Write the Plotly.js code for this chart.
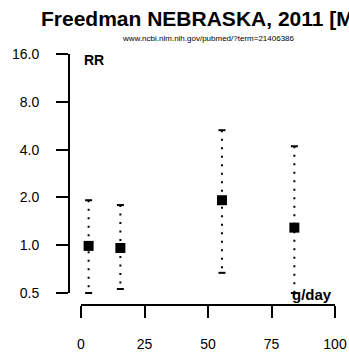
<!DOCTYPE html>
<html>
<head>
<meta charset="utf-8">
<script src="https://cdn.plot.ly/plotly-3.0.1.min.js"></script>
<style>html,body{margin:0;padding:0;background:#fff;}#chart{width:349px;height:361px;}</style>
</head>
<body>
<div id="chart"></div>
<script>
// Data
const dose = [3, 15.5, 55.5, 84];          // g/day
const rr = [0.99, 0.96, 1.92, 1.29];       // relative risk
const rrLow = [0.50, 0.53, 0.67, 0.50];
const rrHigh = [1.92, 1.79, 5.3, 4.2];
const yTickVals = [0.5, 1, 2, 4, 8, 16];
const yTickText = ["0.5", "1.0", "2.0", "4.0", "8.0", "16.0"];
const xTickVals = [0, 25, 50, 75, 100];

// layout geometry (pixels)
const W = 349, Hh = 361;
const ml = 69, mr = 14, mt = 54, mb = 56;
const pw = W - ml - mr, ph = Hh - mt - mb;
const px = v => (v - ml) / pw;
const py = v => (Hh - mb - v) / ph;

// dotted CI lines
const lx = [], ly = [];
for (let i = 0; i < dose.length; i++) {
  lx.push(dose[i], dose[i], null);
  ly.push(rrHigh[i], rrLow[i], null);
}
const capX = dose.concat(dose);
const capY = rrHigh.concat(rrLow);

const traces = [
  {x: lx, y: ly, mode: 'lines', type: 'scatter', cliponaxis: false,
   line: {color: '#000', width: 2, dash: '2px,6.5px'}, hoverinfo: 'skip'},
  {x: capX, y: capY, mode: 'markers', type: 'scatter', cliponaxis: false,
   marker: {symbol: 'line-ew', size: 5, line: {color: '#000', width: 2}}},
  {x: dose, y: rr, mode: 'markers', type: 'scatter', cliponaxis: false,
   marker: {symbol: 'square', size: 10, color: '#000'}}
];

const font = 'Liberation Sans, Arial, Helvetica, sans-serif';
const layout = {
  width: W, height: Hh,
  margin: {l: ml, r: mr, t: mt, b: mb, pad: 0},
  paper_bgcolor: '#fff', plot_bgcolor: '#fff',
  showlegend: false,
  font: {family: font, color: '#000', size: 14},
  xaxis: {
    range: [0, 100], domain: [px(81), 1],
    anchor: 'free', position: 0,
    tickvals: xTickVals, ticktext: xTickVals.map(String),
    ticks: 'outside', ticklen: 12, tickwidth: 2, tickcolor: '#000',
    showline: true, linewidth: 2, linecolor: '#000',
    showgrid: false, zeroline: false, ticklabelstandoff: 14,
    tickfont: {size: 14, family: font}
  },
  yaxis: {
    type: 'log', range: [Math.log10(0.5), Math.log10(16)],
    domain: [py(293), 1],
    anchor: 'free', position: 0,
    tickvals: yTickVals, ticktext: yTickText,
    ticks: 'outside', ticklen: 12, tickwidth: 2, tickcolor: '#000',
    showline: true, linewidth: 2, linecolor: '#000',
    showgrid: false, zeroline: false, ticklabelstandoff: 14,
    tickfont: {size: 14, family: font}
  },
  annotations: [
    {text: '<b>Freedman NEBRASKA, 2011 [M</b>', xref: 'paper', yref: 'paper',
     x: px(39), y: py(18.5), xanchor: 'left', yanchor: 'middle', showarrow: false,
     font: {size: 21, family: font, color: '#000'}},
    {text: 'www.ncbi.nlm.nih.gov/pubmed/?term=21406386', xref: 'paper', yref: 'paper',
     x: px(208), y: py(38), xanchor: 'center', yanchor: 'middle', showarrow: false,
     font: {size: 8, family: font, color: '#000'}},
    {text: '<b>RR</b>', xref: 'paper', yref: 'paper',
     x: px(82), y: py(60), xanchor: 'left', yanchor: 'middle', showarrow: false,
     font: {size: 14, family: font, color: '#000'}},
    {text: '<b>g/day</b>', xref: 'paper', yref: 'paper',
     x: px(334), y: py(294), xanchor: 'right', yanchor: 'middle', showarrow: false,
     font: {size: 15, family: font, color: '#000'}}
  ]
};

Plotly.newPlot('chart', traces, layout, {staticPlot: true, displayModeBar: false});
</script>
</body>
</html>
